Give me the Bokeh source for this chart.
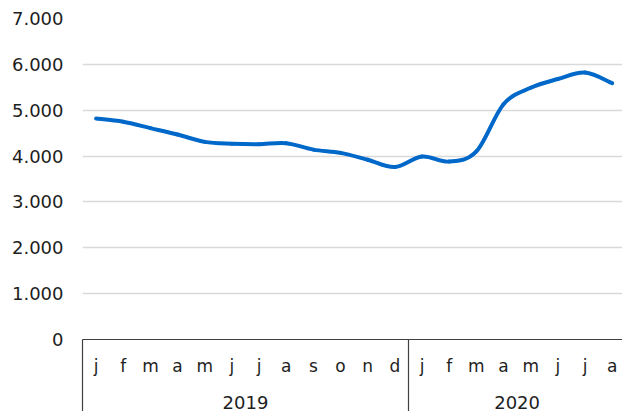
from bokeh.plotting import figure
from bokeh.models import FixedTicker, LinearAxis, Range1d, ColumnDataSource
from bokeh.embed import file_html
from bokeh.resources import INLINE

# ---- data ----
months = ["j", "f", "m", "a", "m", "j", "j", "a", "s", "o", "n", "d",
          "j", "f", "m", "a", "m", "j", "j", "a"]
years = ["2019", "2020"]
months_per_year = [12, 8]
values = [4820, 4750, 4610, 4470, 4310, 4270, 4260, 4280, 4140, 4070,
          3920, 3760, 3990, 3880, 4100, 5130, 5490, 5680, 5820, 5590]
y_ticks = [0, 1000, 2000, 3000, 4000, 5000, 6000, 7000]
y_tick_labels = ["0", "1.000", "2.000", "3.000", "4.000", "5.000", "6.000", "7.000"]

FONT = "DejaVu Sans"
TXT = "#1e1e1e"
BLUE = "#0068c9"
AXC = "#404040"

n = len(values)
xs = [i + 0.5 for i in range(n)]

p = figure(width=622, height=411, output_backend="svg", toolbar_location=None,
           x_range=Range1d(0, 19.88), y_range=Range1d(0, 7000),
           min_border_left=82, min_border_right=0, min_border_top=18,
           min_border_bottom=71, x_axis_location=None)
p.outline_line_color = None
p.background_fill_color = "white"
p.border_fill_color = "white"
p.xgrid.visible = False
p.ygrid.grid_line_color = "#d9d9d9"
p.ygrid.grid_line_width = 1.5
p.ygrid.ticker = FixedTicker(ticks=y_ticks)

# y axis
ya = p.yaxis[0]
ya.ticker = FixedTicker(ticks=y_ticks)
ya.major_label_overrides = {t: l for t, l in zip(y_ticks, y_tick_labels)}
ya.axis_line_color = None
ya.major_tick_line_color = None
ya.minor_tick_line_color = None
ya.major_tick_out = 0
ya.major_label_standoff = 19
ya.major_label_text_font = FONT
ya.major_label_text_font_size = "18px"
ya.major_label_text_color = TXT

# year boundaries
bounds = [0]
for c in months_per_year:
    bounds.append(bounds[-1] + c)
year_centers = [(bounds[i] + bounds[i + 1]) / 2 for i in range(len(years))]

# month axis (axis line + long minor ticks as year dividers)
ma = LinearAxis(ticker=FixedTicker(ticks=xs, minor_ticks=bounds))
ma.major_label_overrides = {x: m for x, m in zip(xs, months)}
ma.axis_line_color = AXC
ma.axis_line_width = 1.2
ma.major_tick_line_color = None
ma.major_tick_out = 0
ma.major_tick_in = 0
ma.minor_tick_line_color = AXC
ma.minor_tick_line_width = 1.2
ma.minor_tick_in = 0
ma.minor_tick_out = 72
ma.major_label_standoff = 16 - 72
ma.major_label_text_font = FONT
ma.major_label_text_font_size = "17px"
ma.major_label_text_color = TXT
p.add_layout(ma, "below")

# year axis
ya2 = LinearAxis(ticker=FixedTicker(ticks=year_centers, minor_ticks=[]))
ya2.major_label_overrides = {c: y for c, y in zip(year_centers, years)}
ya2.axis_line_color = None
ya2.major_tick_line_color = None
ya2.minor_tick_line_color = None
ya2.major_tick_out = 0
ya2.major_label_standoff = 17
ya2.major_label_text_font = FONT
ya2.major_label_text_font_size = "18px"
ya2.major_label_text_color = TXT
p.add_layout(ya2, "below")

# smooth line via cubic Bezier segments (Catmull-Rom style tangents)
x0, y0, x1, y1, cx0, cy0, cx1, cy1 = [], [], [], [], [], [], [], []
for i in range(n - 1):
    pm = max(i - 1, 0)
    pp = min(i + 2, n - 1)
    x0.append(xs[i]); y0.append(values[i])
    x1.append(xs[i + 1]); y1.append(values[i + 1])
    cx0.append(xs[i] + (xs[i + 1] - xs[pm]) / 6)
    cy0.append(values[i] + (values[i + 1] - values[pm]) / 6)
    cx1.append(xs[i + 1] - (xs[pp] - xs[i]) / 6)
    cy1.append(values[i + 1] - (values[pp] - values[i]) / 6)
src = ColumnDataSource(dict(x0=x0, y0=y0, x1=x1, y1=y1, cx0=cx0, cy0=cy0, cx1=cx1, cy1=cy1))
p.bezier(x0="x0", y0="y0", x1="x1", y1="y1", cx0="cx0", cy0="cy0", cx1="cx1", cy1="cy1",
         source=src, line_color=BLUE, line_width=4, line_cap="round")

open("out.html", "w").write(file_html(p, INLINE))
